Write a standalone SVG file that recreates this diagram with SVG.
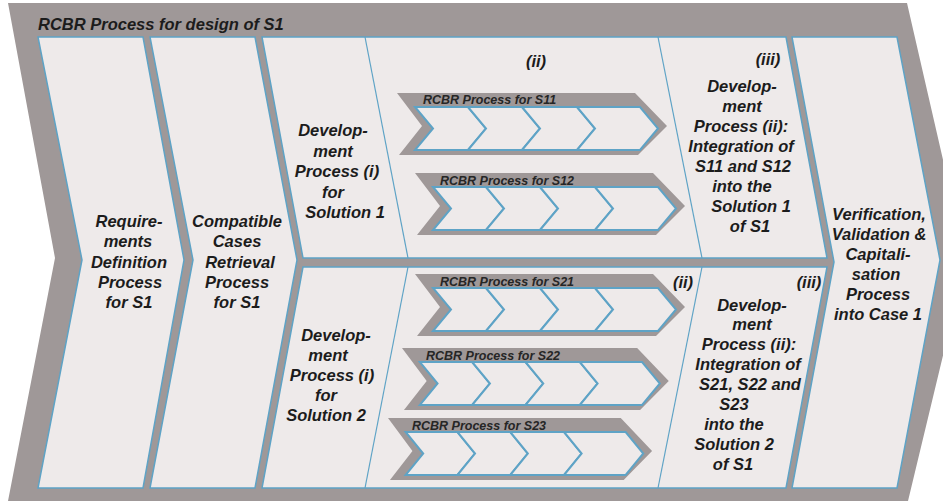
<svg xmlns="http://www.w3.org/2000/svg" xmlns:xlink="http://www.w3.org/1999/xlink" width="943" height="501" viewBox="0 0 943 501">
<style>
.frame{fill:#9f9898}
.panel{fill:#eeeaea;stroke:#5ea3c6;stroke-width:1.5}
.div{stroke:#5ea3c6;stroke-width:1.2;fill:none}
.chev{fill:#eeeaea;stroke:#5ea3c6;stroke-width:2}
.t{font-family:"Liberation Sans",Arial,sans-serif;font-weight:bold;font-style:italic;font-size:16.5px;fill:#1c1c1c;text-anchor:middle}
.title{text-anchor:start}
.lbl{font-size:12.5px;text-anchor:start;fill:#262626}
</style>
<defs>
<g id="proc">
<path class="frame" d="M0,0 H238 L270,33 L241,62 H2 L25,33 Z"/>
<polygon class="chev" points="18,14 71,14 89,35.5 71,57 18,57 36,35.5"/>
<polygon class="chev" points="71,14 125,14 143,35.5 125,57 71,57 89,35.5"/>
<polygon class="chev" points="125,14 180,14 198,35.5 180,57 125,57 143,35.5"/>
<polygon class="chev" points="180,14 243,14 261,35.5 243,57 180,57 198,35.5"/>
</g>
</defs>
<rect width="943" height="501" fill="#ffffff"/>
<g id="frame">
<polygon class="frame" points="8,3 907,3 966,260 908,501 8,501 55,258"/>
<text class="t title" x="38" y="30">RCBR Process for design of S1</text>
</g>
<g id="requirements">
<polygon class="panel" points="38,37 143,37 184,260 143,488 38,488 82,260"/>
<text class="t" x="129" y="227">Require-</text>
<text class="t" x="128" y="247.3">ments</text>
<text class="t" x="129" y="267.6">Definition</text>
<text class="t" x="130" y="287.9">Process</text>
<text class="t" x="129" y="308.2">for S1</text>
</g>
<g id="retrieval">
<polygon class="panel" points="150,37 255,37 297,260 255,488 150,488 193,260"/>
<text class="t" x="237" y="227">Compatible</text>
<text class="t" x="237" y="247.3">Cases</text>
<text class="t" x="240" y="267.6">Retrieval</text>
<text class="t" x="237" y="287.9">Process</text>
<text class="t" x="237" y="308.2">for S1</text>
</g>
<g id="solution1">
<polygon class="panel" points="262,37 786,37 827,258 303,258"/>
<line class="div" x1="365" y1="37" x2="408" y2="258"/>
<line class="div" x1="658" y1="37" x2="702" y2="258"/>
<text class="t" x="333" y="136">Develop-</text>
<text class="t" x="333" y="156.5">ment</text>
<text class="t" x="337" y="177">Process (i)</text>
<text class="t" x="333" y="197.5">for</text>
<text class="t" x="345" y="218">Solution 1</text>
<text class="t" x="536" y="67">(ii)</text>
<text class="t" x="768" y="65">(iii)</text>
<text class="t" x="742" y="92">Develop-</text>
<text class="t" x="742" y="112">ment</text>
<text class="t" x="741" y="132">Process (ii):</text>
<text class="t" x="741" y="152">Integration of</text>
<text class="t" x="743" y="172">S11 and S12</text>
<text class="t" x="742" y="192">into the</text>
<text class="t" x="751" y="212">Solution 1</text>
<text class="t" x="750" y="232">of S1</text>
</g>
<g id="solution2">
<polygon class="panel" points="303,267 827,267 786,488 262,488"/>
<line class="div" x1="408" y1="267" x2="365" y2="488"/>
<line class="div" x1="702" y1="267" x2="658" y2="488"/>
<text class="t" x="336" y="341">Develop-</text>
<text class="t" x="328" y="361">ment</text>
<text class="t" x="332" y="381">Process (i)</text>
<text class="t" x="326" y="401">for</text>
<text class="t" x="326" y="421">Solution 2</text>
<text class="t" x="683" y="288">(ii)</text>
<text class="t" x="809" y="288">(iii)</text>
<text class="t" x="752" y="310.5">Develop-</text>
<text class="t" x="752" y="330.4">ment</text>
<text class="t" x="749" y="350.3">Process (ii):</text>
<text class="t" x="748" y="370.2">Integration of</text>
<text class="t" x="750" y="390.1">S21, S22 and</text>
<text class="t" x="734" y="410">S23</text>
<text class="t" x="734" y="429.9">into the</text>
<text class="t" x="734" y="449.8">Solution 2</text>
<text class="t" x="733" y="469.7">of S1</text>
</g>
<g id="verification">
<polygon class="panel" points="792,37 897,37 940,260 897,488 792,488 834,262"/>
<text class="t" x="879" y="220">Verification,</text>
<text class="t" x="879" y="240">Validation &amp;</text>
<text class="t" x="878" y="260">Capitali-</text>
<text class="t" x="876" y="280">sation</text>
<text class="t" x="878" y="300">Process</text>
<text class="t" x="878" y="320">into Case 1</text>
</g>
<g id="s11">
<use xlink:href="#proc" transform="translate(397,93)"/>
<text class="t lbl" x="423" y="104">RCBR Process for S11</text>
</g>
<g id="s12">
<use xlink:href="#proc" transform="translate(415,173)"/>
<text class="t lbl" x="440" y="185">RCBR Process for S12</text>
</g>
<g id="s21">
<use xlink:href="#proc" transform="translate(415,274)"/>
<text class="t lbl" x="440" y="286">RCBR Process for S21</text>
</g>
<g id="s22">
<use xlink:href="#proc" transform="translate(402,348) scale(0.988,1)"/>
<text class="t lbl" x="426" y="360">RCBR Process for S22</text>
</g>
<g id="s23">
<use xlink:href="#proc" transform="translate(388,418) scale(0.978,1)"/>
<text class="t lbl" x="412" y="430">RCBR Process for S23</text>
</g>
<g id="connectors"/>
</svg>
